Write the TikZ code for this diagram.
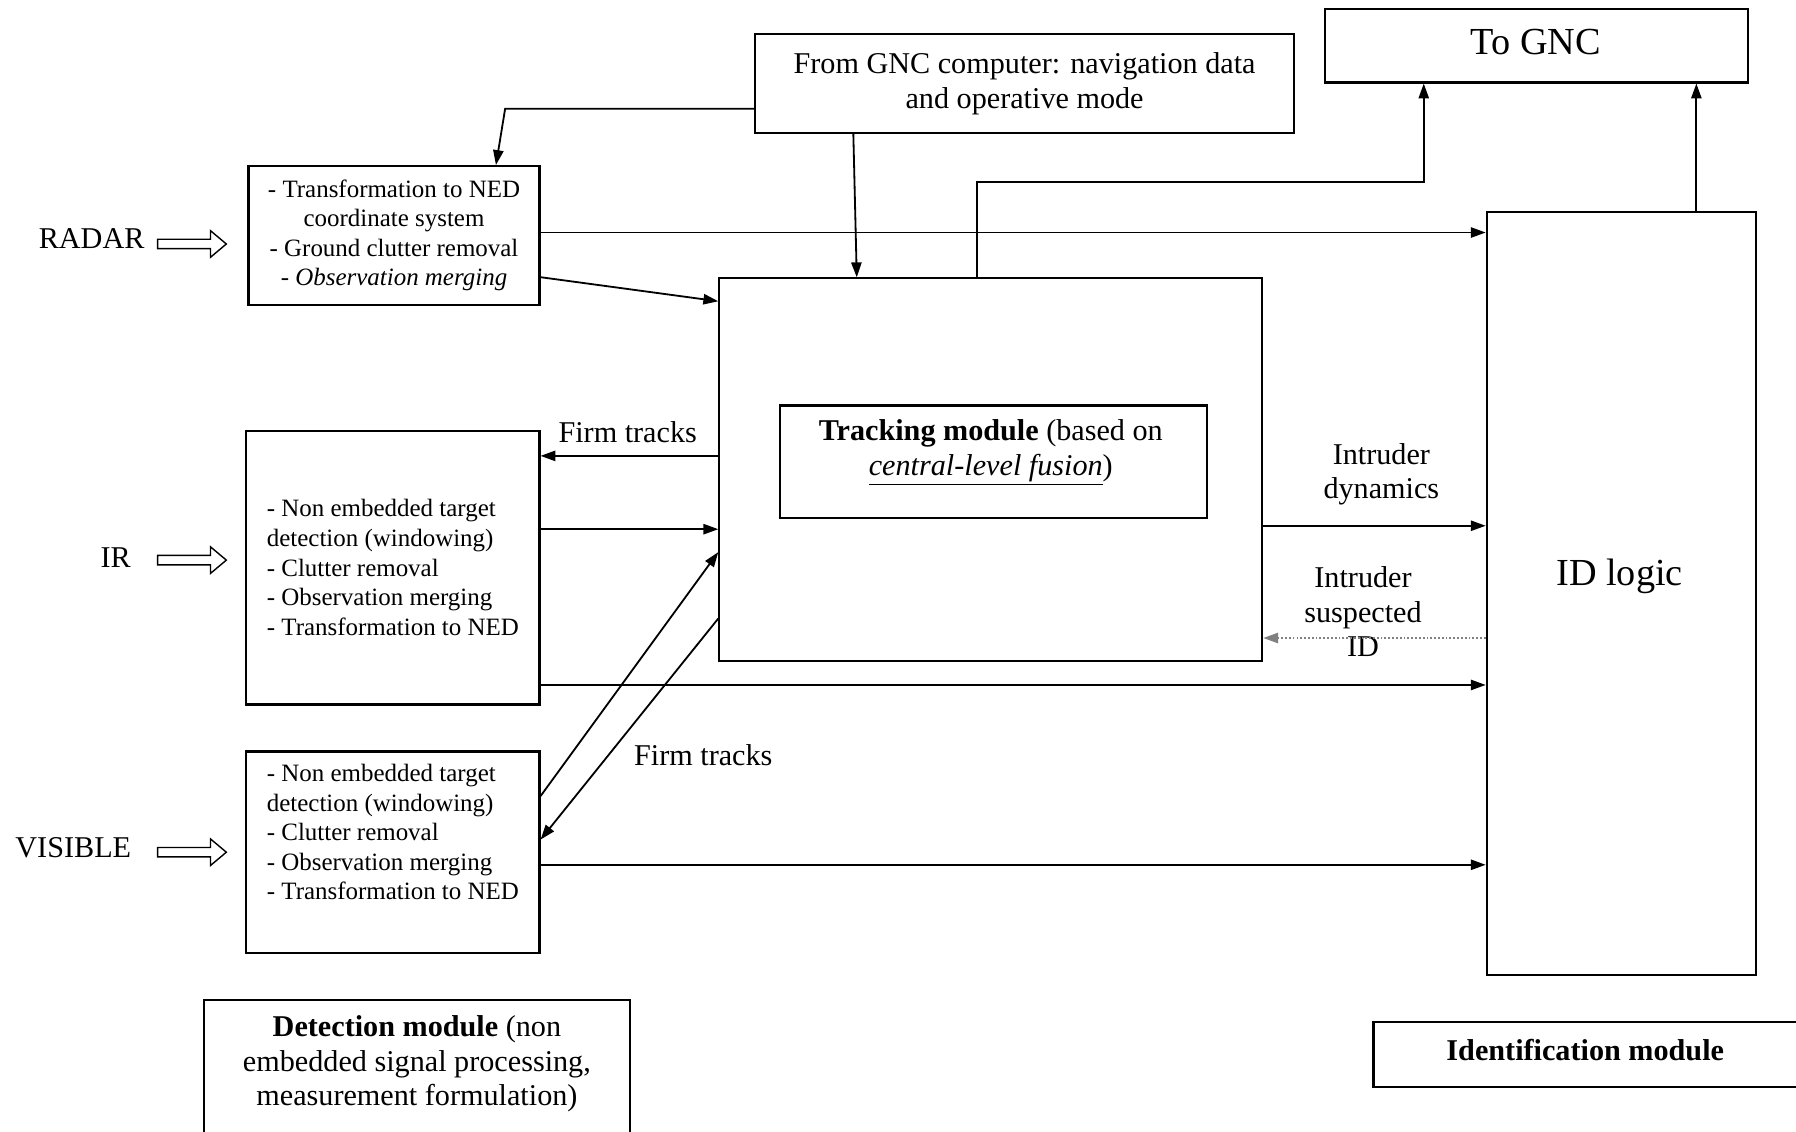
\documentclass[tikz,border=0pt]{standalone}
\usepackage{fontspec}
\setmainfont{Liberation Serif}
\usetikzlibrary{arrows.meta,shapes.arrows}
\tikzset{
  box/.style={draw, rectangle, line width=1.1pt, inner sep=0pt},
  listtxt/.style={font=\fontsize{12.4}{14.7}\selectfont, align=left, inner sep=0pt},
  lbl/.style={font=\fontsize{15}{17.2}\selectfont, align=center, inner sep=0pt},
  bigtxt/.style={font=\fontsize{19}{22}\selectfont, inner sep=0pt},
  flow/.style={-{Triangle[length=0.26cm,width=0.18cm]}, line width=0.9pt},
  hollow/.style={single arrow, draw, line width=0.7pt, minimum height=1.2cm,
    minimum width=0.44cm, inner sep=0.07cm, single arrow head extend=0.15cm,
    single arrow tip angle=80, anchor=tail}
}
\begin{document}
\begin{tikzpicture}[x=0.02cm, y=-0.02cm]
  \useasboundingbox (0,0) rectangle (1568,988);
  \fill[white] (0,0) rectangle (1568,988);
  \clip (0,0) rectangle (1568,988);

  % sensors
  \node[lbl] (radarlbl) at (80,208) {RADAR};
  \node[lbl] (irlbl) at (101,487) {IR};
  \node[lbl] (vislbl) at (64,740) {VISIBLE};
  \node[hollow] (radarin) at (137,213) {};
  \node[hollow] (irin) at (137,489) {};
  \node[hollow] (visin) at (137,744) {};

  % detection boxes
  \node[box, minimum width=5.08cm, minimum height=2.42cm, listtxt, align=center] (radar) at (344,205.5)
    {- Transformation to NED\\coordinate system\\- Ground clutter removal\\- \textit{Observation merging}};
  \node[box, minimum width=5.12cm, minimum height=4.78cm, listtxt] (ir) at (343,495.5)
    {- Non embedded target\\detection (windowing)\\- Clutter removal\\- Observation merging\\- Transformation to NED};
  \node[box, minimum width=5.12cm, minimum height=3.52cm] (vis) at (343,744) {};
  \node[listtxt] (vistxt) at (343,726.5)
    {- Non embedded target\\detection (windowing)\\- Clutter removal\\- Observation merging\\- Transformation to NED};
  \node[box, minimum width=7.44cm, minimum height=2.6cm] (detmod) at (364,938) {};
  \node[lbl] (dettxt) at (364,929)
    {\textbf{Detection module} (non\\embedded signal processing,\\measurement formulation)};

  % tracking
  \node[box, minimum width=9.48cm, minimum height=6.68cm] (track) at (865,410) {};
  \node[box, minimum width=7.46cm, minimum height=1.96cm] (core) at (867.5,403) {};
  \node[lbl] (coretxt) at (865,395)
    {\textbf{Tracking module} (based on\\\underline{\textit{central-level fusion}})};

  % GNC
  \node[box, minimum width=9.42cm, minimum height=1.72cm, lbl] (gncin) at (894.5,73)
    {From GNC computer: navigation data\\and operative mode};
  \node[box, minimum width=7.38cm, minimum height=1.28cm] (gncout) at (1341.5,40) {};
  \node[bigtxt] (gncouttxt) at (1341,37) {To GNC};

  % identification
  \node[box, minimum width=4.70cm, minimum height=13.32cm] (idlogic) at (1415.5,518) {};
  \node[bigtxt] (idtxt) at (1414,503) {ID logic};
  \node[box, minimum width=7.62cm, minimum height=1.14cm] (idmod) at (1389.5,920.5) {};
  \node[lbl] (idmodtxt) at (1384,917) {\textbf{Identification module}};

  % labels
  \node[lbl] (firm1) at (548,377) {Firm tracks};
  \node[lbl] (firm2) at (614,659) {Firm tracks};
  \node[lbl] (dyn) at (1206,414) {Intruder\\dynamics};
  \node[lbl] (susp) at (1190,534) {Intruder\\suspected\\ID};

  % connectors
  \coordinate (gncbend) at (441,95);
  \coordinate (upa) at (853,159);
  \coordinate (upb) at (1243,159);
  \draw[flow] (gncin.west |- 0,95) -- (gncbend) -- (433,0 |- radar.north);
  \draw[flow] (745,0 |- gncin.south) -- (748,0 |- track.north);
  \draw[flow] (853,0 |- track.north) -- (upa) -- (upb) -- (1243,0 |- gncout.south);
  \draw[flow] (1481,0 |- idlogic.north) -- (1481,0 |- gncout.south);
  \draw[flow] (radar.east |- 0,203) -- (idlogic.west |- 0,203);
  \draw[flow] (radar.east |- 0,242) -- (track.west |- 0,263);
  \draw[flow] (track.west |- 0,398) -- (ir.east |- 0,398);
  \draw[flow] (ir.east |- 0,462) -- (track.west |- 0,462);
  \draw[flow] (ir.east |- 0,598) -- (idlogic.west |- 0,598);
  \draw[flow] (vis.east |- 0,695) -- (track.west |- 0,482);
  \draw[flow] (track.west |- 0,540) -- (vis.east |- 0,733);
  \draw[flow] (vis.east |- 0,755) -- (idlogic.west |- 0,755);
  \draw[flow] (track.east |- 0,459) -- (idlogic.west |- 0,459);
  \draw[flow, densely dotted, gray] (idlogic.west |- 0,557) -- (track.east |- 0,557);
\end{tikzpicture}
\end{document}
